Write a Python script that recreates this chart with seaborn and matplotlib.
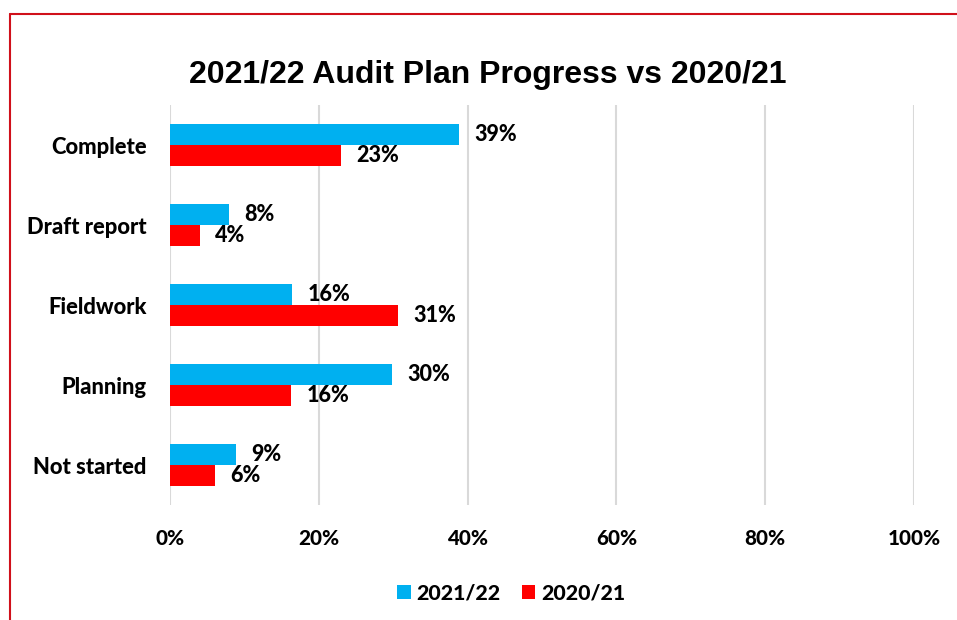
import matplotlib
matplotlib.use("Agg")
import matplotlib.pyplot as plt
import seaborn as sns
import pandas as pd

categories = ["Complete", "Draft report", "Fieldwork", "Planning", "Not started"]
series_names = ["2021/22", "2020/21"]
values_2122 = [38.8, 7.9, 16.4, 29.8, 8.9]
values_2021 = [23.0, 4.0, 30.6, 16.3, 6.0]
x_ticks = [0, 20, 40, 60, 80, 100]
colors = ["#00B0F0", "#FF0000"]

df = pd.DataFrame({
    "category": categories * 2,
    "series": [series_names[0]] * len(categories) + [series_names[1]] * len(categories),
    "value": values_2122 + values_2021,
})

sns.set_theme(style="white")
plt.rcParams["font.family"] = ["Lato", "DejaVu Sans"]
plt.rcParams["text.color"] = "black"
plt.rcParams["xtick.color"] = "black"
plt.rcParams["ytick.color"] = "black"

fig = plt.figure(figsize=(9.57, 6.2), dpi=100)
ax = fig.add_axes([170/957, 1-505/620, (914-170)/957, 400/620])

sns.barplot(data=df, y="category", x="value", hue="series", order=categories,
            hue_order=series_names, palette=colors, orient="h", width=0.525,
            saturation=1, linewidth=0, ax=ax, legend=True)

W = 900
ax.set_xlim(0, 100)
ax.set_xticks(x_ticks)
ax.set_xticklabels([f"{t}%" for t in x_ticks], fontsize=14.9, fontweight=W)
ax.set_yticklabels(categories, fontsize=15.8, fontweight=W)
ax.tick_params(axis="x", length=0, pad=17)
ax.tick_params(axis="y", length=0, pad=17)
ax.set_xlabel("")
ax.set_ylabel("")
ax.grid(axis="x", color="#D9D9D9", linewidth=1.5)
ax.set_axisbelow(True)
for s in ax.spines.values():
    s.set_visible(False)

for cont in ax.containers:
    ax.bar_label(cont, labels=[f"{v:.0f}%" for v in cont.datavalues],
                 padding=11, fontsize=15.5, fontweight=W, color="black")

leg = ax.legend(loc="center", bbox_to_anchor=(511/957, 1-593/620),
                bbox_transform=fig.transFigure, ncol=2, frameon=False,
                prop={"weight": W, "size": 15.3}, handlelength=0.65,
                handleheight=0.65, handletextpad=0.25, columnspacing=1.0)

fig.text(488/957, 1-75/620, "2021/22 Audit Plan Progress vs 2020/21",
         ha="center", va="center", fontsize=23, fontweight="bold",
         family="Liberation Sans", color="black")

fig.add_artist(plt.Line2D([9.5/957, 1.01], [1-14/620, 1-14/620], transform=fig.transFigure,
                          color="#D0101A", linewidth=1.5))
fig.add_artist(plt.Line2D([9.5/957, 9.5/957], [-0.01, 1-14/620], transform=fig.transFigure,
                          color="#D0101A", linewidth=1.5))

fig.savefig("out.png", dpi=100)
